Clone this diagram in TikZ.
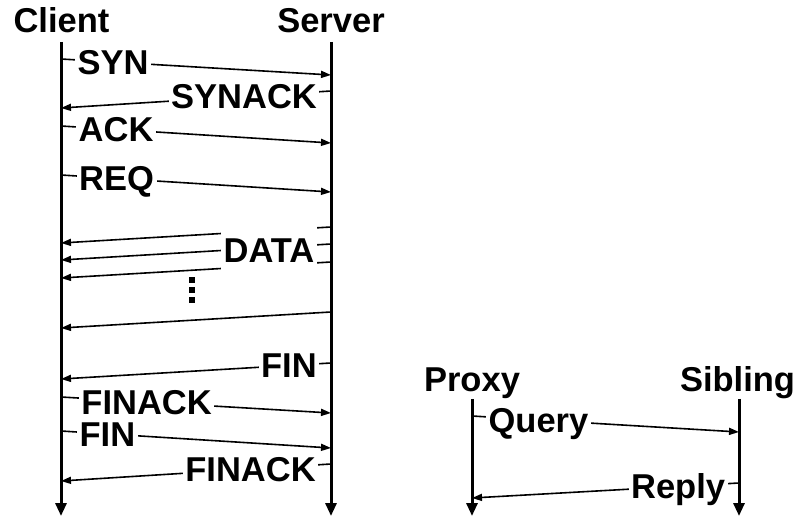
\documentclass[tikz,border=0pt]{standalone}
\usepackage{fontspec}
\setmainfont{Liberation Sans}
\usetikzlibrary{arrows.meta}

\tikzset{
  title/.style={anchor=base, inner sep=0pt, font=\bfseries\fontsize{34.5}{40}\selectfont},
  lbl/.style={fill=white, inner xsep=2.5pt, inner ysep=3pt, text height=24.7pt, text depth=0pt,
              font=\bfseries\fontsize{34.5}{40}\selectfont},
  lifeline/.style={line width=3pt, -{Triangle[length=13pt, width=11pt]}},
  msg/.style={line width=1.6pt, -{Triangle[length=10pt, width=7pt]}},
  dot/.style={fill=black, inner sep=0pt, minimum size=5.5pt}
}

\begin{document}
\begin{tikzpicture}[x=1pt, y=-1pt]
\useasboundingbox (0,0) rectangle (798,518);

% ---- TCP exchange: lifelines ----
\node[title] (client) at (61.5,33) {Client};
\node[title] (server) at (331,33) {Server};
\coordinate (cT) at (61,42);  \coordinate (cB) at (61,516);
\coordinate (sT) at (331,42); \coordinate (sB) at (331,516);
\draw[lifeline] (cT) -- (cB);
\draw[lifeline] (sT) -- (sB);

% message end points
\coordinate (c1) at (61,59);   \coordinate (s1) at (331,75);
\coordinate (s2) at (331,91);  \coordinate (c2) at (61,108);
\coordinate (c3) at (61,126);  \coordinate (s3) at (331,143);
\coordinate (c4) at (61,175);  \coordinate (s4) at (331,192);
\coordinate (s5) at (331,227); \coordinate (c5) at (61,243);
\coordinate (s6) at (331,244); \coordinate (c6) at (61,260);
\coordinate (s7) at (331,262); \coordinate (c7) at (61,278);
\coordinate (s8) at (331,312); \coordinate (c8) at (61,328);
\coordinate (s9) at (331,363); \coordinate (c9) at (61,379);
\coordinate (c10) at (61,397); \coordinate (s10) at (331,413);
\coordinate (c11) at (61,431); \coordinate (s11) at (331,448);
\coordinate (s12) at (331,464); \coordinate (c12) at (61,481);

% handshake and request
\draw[msg] (c1) -- node[lbl, pos=0.193] (syn) {SYN} (s1);
\draw[msg] (s2) -- node[lbl, pos=0.322] (synack) {SYNACK} (c2);
\draw[msg] (c3) -- node[lbl, pos=0.204] (ack) {ACK} (s3);
\draw[msg] (c4) -- node[lbl, pos=0.206] (req) {REQ} (s4);

% data segments
\draw[msg] (s5) -- (c5);
\draw[msg] (s6) -- (c6);
\draw[msg] (s7) -- (c7);
\node[lbl, inner ysep=12pt] (data) at (269,250) {DATA};
\node[dot] (d1) at (192,280) {};
\node[dot] (d2) at (192,290) {};
\node[dot] (d3) at (192,300) {};
\draw[msg] (s8) -- (c8);

% teardown
\draw[msg] (s9) -- node[lbl, pos=0.156] (fin1) {FIN} (c9);
\draw[msg] (c10) -- node[lbl, pos=0.317] (finack1) {FINACK} (s10);
\draw[msg] (c11) -- node[lbl, pos=0.172] (fin2) {FIN} (s11);
\draw[msg] (s12) -- node[lbl, pos=0.298] (finack2) {FINACK} (c12);

% ---- ICP exchange ----
\node[title] (proxy) at (472,392) {Proxy};
\node[title] (sibling) at (737.5,392) {Sibling};
\coordinate (pT) at (472,399); \coordinate (pB) at (472,516);
\coordinate (bT) at (739,399); \coordinate (bB) at (739,516);
\draw[lifeline] (pT) -- (pB);
\draw[lifeline] (bT) -- (bB);

\coordinate (p1) at (472,416); \coordinate (b1) at (739,432);
\coordinate (b2) at (739,483); \coordinate (p2) at (472,498);
\draw[msg] (p1) -- node[lbl, pos=0.249] (query) {Query} (b1);
\draw[msg] (b2) -- node[lbl, pos=0.228] (reply) {Reply} (p2);
\end{tikzpicture}
\end{document}
